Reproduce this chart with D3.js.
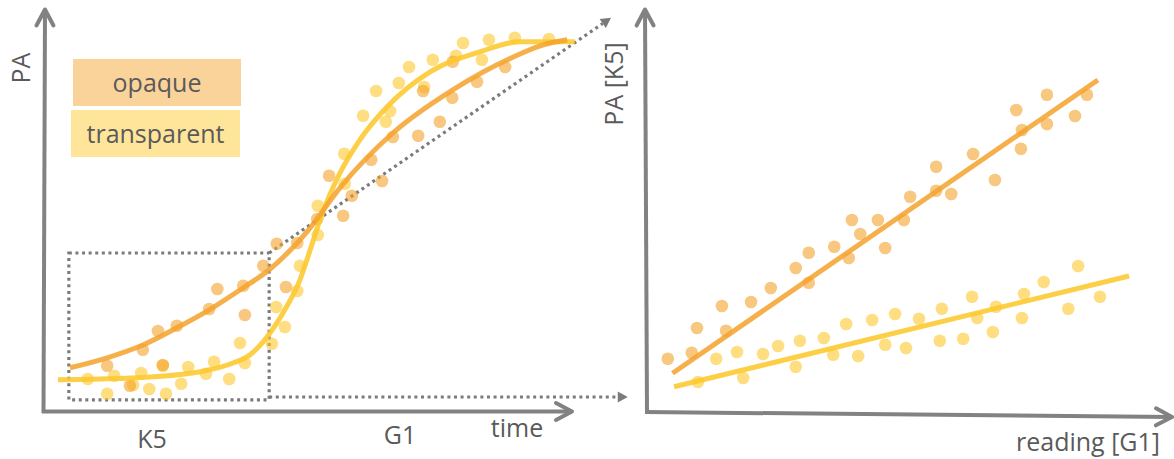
<!DOCTYPE html>
<html>
<head>
<meta charset="utf-8">
<script src="https://cdn.jsdelivr.net/npm/d3@7"></script>
<style>
  html, body { margin: 0; padding: 0; background: #fff; }
  svg { display: block; }
  text { font-family: "Open Sans", sans-serif; fill: #5a5a5a; }
</style>
</head>
<body>
<svg id="chart" width="1174" height="459"></svg>
<script>
// ---------- Left panel: PA over time (time 0–100, PA 0–100) ----------
const opaqueCurve = [
  [4.8, 10.8], [11.7, 13.3], [18.3, 16.5], [24.6, 20.8], [30.6, 25.3], [36.9, 30.8],
  [41.7, 35.3], [48.7, 44.8], [54.8, 55.8], [64.6, 69.5], [75.7, 80.3], [86.9, 88.5],
  [91.9, 91.3], [96.9, 92.8]
];
const transparentCurve = [
  [2.6, 7.8], [10.4, 8.0], [19.6, 8.5], [28.9, 9.8], [35.0, 12.0], [38.1, 14.0],
  [41.3, 18.5], [44.6, 25.3], [47.4, 32.8], [49.3, 40.3], [51.1, 47.8], [54.8, 59.5],
  [58.5, 67.8], [63.5, 76.0], [71.5, 84.8], [80.7, 89.8], [88.1, 92.3], [98.3, 92.3]
];
const opaqueTimeDots = [
  [11.7, 11.3], [15.9, 6.3], [18.3, 15.3], [21.1, 20.0], [22.0, 11.5], [24.6, 21.3],
  [30.6, 25.5], [32.1, 30.5], [36.9, 31.3], [37.2, 24.0], [40.6, 36.3], [43.1, 41.8],
  [44.8, 31.0], [46.9, 42.0], [50.6, 48.0], [52.8, 58.8], [55.4, 48.8], [57.0, 53.8],
  [60.6, 62.8], [62.6, 57.5], [64.6, 68.5], [69.3, 68.8], [73.3, 72.3], [70.2, 80.0],
  [75.6, 78.3], [75.7, 87.3], [80.2, 82.3], [85.4, 86.0]
];
const transparentTimeDots = [
  [8.1, 8.0], [11.7, 4.3], [13.0, 8.8], [16.5, 6.5], [18.0, 9.5], [19.5, 5.5],
  [22.0, 11.3], [22.6, 4.3], [25.4, 6.8], [26.7, 11.0], [30.0, 9.3], [31.5, 12.3],
  [34.3, 8.0], [36.3, 17.0], [37.2, 12.0], [42.2, 16.8], [43.0, 26.0], [44.6, 21.0],
  [46.9, 30.0], [47.4, 36.3], [50.7, 44.0], [50.7, 51.3], [55.7, 56.8], [55.6, 64.3],
  [59.1, 73.8], [63.3, 72.3], [64.1, 75.0], [61.5, 80.0], [65.7, 82.0], [67.6, 86.0],
  [70.4, 81.0], [72.0, 87.8], [76.3, 88.8], [77.6, 92.0], [81.1, 87.8], [82.4, 92.8],
  [87.2, 93.3], [93.5, 93.0]
];
// K5 window [t0, t1, pa0, pa1] and the two dotted arrow targets (time, PA)
const k5Window = [4.6, 41.7, 2.8, 39.5];
const diagonalArrowTip = [105.0, 98.3];
const baselineArrow = [41.7, 108.1, 3.5];

// ---------- Right panel: PA [K5] vs reading [G1] (0–100 each) ----------
const opaqueReadingDots = [
  [4.2, 13.3], [8.8, 14.8], [9.8, 21.0], [14.6, 26.5], [15.4, 20.3], [20.2, 27.5],
  [24.0, 31.0], [28.8, 36.0], [31.3, 32.3], [31.3, 39.8], [36.2, 41.3], [39.0, 38.5],
  [39.6, 48.0], [41.2, 44.5], [44.6, 48.0], [46.0, 41.0], [49.6, 48.0], [50.8, 53.8],
  [55.8, 61.3], [55.8, 55.3], [58.7, 54.5], [62.9, 64.5], [67.1, 58.0], [71.2, 75.5],
  [72.3, 70.5], [72.1, 65.8], [77.1, 79.3], [77.1, 72.0], [82.5, 74.0], [84.8, 79.3]
];
const transparentReadingDots = [
  [10.0, 7.5], [18.7, 8.5], [13.5, 13.3], [17.5, 15.0], [22.5, 14.5], [25.4, 16.5],
  [28.8, 11.3], [29.6, 17.8], [34.2, 18.5], [36.0, 14.3], [38.5, 22.0], [40.8, 14.0],
  [43.5, 23.0], [46.0, 16.8], [47.9, 24.5], [50.0, 16.0], [52.5, 23.3], [56.5, 17.8],
  [56.9, 25.8], [61.0, 18.3], [62.7, 28.8], [63.7, 23.5], [66.7, 20.0], [67.3, 26.3],
  [72.3, 23.5], [72.7, 29.5], [76.5, 32.5], [81.2, 25.8], [83.1, 36.5], [87.3, 28.8]
];
const opaqueFit = [[5.1, 9.7], [86.9, 83.0]];
const transparentFit = [[5.4, 6.3], [92.9, 34.0]];

// ---------- Labels ----------
const seriesNames = ["opaque", "transparent"];
const leftAxisLabels = { y: "PA", x: "time", k5: "K5", g1: "G1" };
const rightAxisLabels = { y: "PA [K5]", x: "reading [G1]" };

// ---------- Styling ----------
const colors = {
  opaque: "#f4a22c", transparent: "#fdc82c",
  opaqueBox: "#fad39b", transparentBox: "#ffe59a",
  axis: "#828282", dotted: "#7b7b7b"
};
const dotR = 6.3;

const svg = d3.select("#chart");
svg.append("rect").attr("width", 1174).attr("height", 459).attr("fill", "#fff");

const xL = d3.scaleLinear().domain([0, 100]).range([44, 584]);
const yL = d3.scaleLinear().domain([0, 100]).range([411, 11]);
const xR = d3.scaleLinear().domain([0, 100]).range([646, 1166]);
const yR = d3.scaleLinear().domain([0, 100]).range([412, 12]);

// arrow axis: straight line with an open chevron at the tip
function arrowAxis(x0, y0, x1, y1) {
  const g = svg.append("g").attr("stroke", colors.axis).attr("stroke-width", 4)
    .attr("fill", "none").attr("stroke-linecap", "round").attr("stroke-linejoin", "round");
  g.append("line").attr("x1", x0).attr("y1", y0).attr("x2", x1).attr("y2", y1)
    .attr("stroke-linecap", "butt");
  const a = Math.atan2(y1 - y0, x1 - x0);
  const back = 16, half = 8.5;
  const bx = x1 - back * Math.cos(a), by = y1 - back * Math.sin(a);
  const px = -Math.sin(a) * half, py = Math.cos(a) * half;
  g.append("path").attr("d",
    `M${bx + px},${by + py}L${x1},${y1}L${bx - px},${by - py}`);
}

// dotted line ending in a filled triangular head
function dottedArrow(x0, y0, x1, y1) {
  const a = Math.atan2(y1 - y0, x1 - x0);
  const len = 10, half = 5.5;
  const bx = x1 - len * Math.cos(a), by = y1 - len * Math.sin(a);
  svg.append("line").attr("x1", x0).attr("y1", y0).attr("x2", bx).attr("y2", by)
    .attr("stroke", colors.dotted).attr("stroke-width", 3.2)
    .attr("stroke-dasharray", "3,3.6");
  const px = -Math.sin(a) * half, py = Math.cos(a) * half;
  svg.append("path")
    .attr("d", `M${x1},${y1}L${bx + px},${by + py}L${bx - px},${by - py}Z`)
    .attr("fill", colors.dotted);
}

// ---------- Left panel ----------
// K5 window
const [w0, w1, p0, p1] = k5Window;
svg.append("rect")
  .attr("x", xL(w0)).attr("y", yL(p1))
  .attr("width", xL(w1) - xL(w0)).attr("height", yL(p0) - yL(p1))
  .attr("fill", "none").attr("stroke", colors.dotted).attr("stroke-width", 3.2)
  .attr("stroke-dasharray", "3,3.6");
dottedArrow(xL(w1), yL(p1), xL(diagonalArrowTip[0]), yL(diagonalArrowTip[1]));
dottedArrow(xL(baselineArrow[0]), yL(baselineArrow[2]), xL(baselineArrow[1]), yL(baselineArrow[2]));

// points
function dots(data, x, y, color) {
  svg.append("g").selectAll("circle").data(data).join("circle")
    .attr("cx", d => x(d[0])).attr("cy", d => y(d[1])).attr("r", dotR)
    .attr("fill", color).attr("fill-opacity", 0.6);
}
dots(transparentTimeDots, xL, yL, colors.transparent);
dots(opaqueTimeDots, xL, yL, colors.opaque);

const lineL = d3.line().x(d => xL(d[0])).y(d => yL(d[1])).curve(d3.curveMonotoneX);
svg.append("path").datum(transparentCurve).attr("d", lineL)
  .attr("fill", "none").attr("stroke", colors.transparent).attr("stroke-width", 5)
  .attr("stroke-opacity", 0.88);
svg.append("path").datum(opaqueCurve).attr("d", lineL)
  .attr("fill", "none").attr("stroke", colors.opaque).attr("stroke-width", 5)
  .attr("stroke-opacity", 0.85);

// axes
arrowAxis(43.5, 413, 45, 9.5);
arrowAxis(42, 411.5, 572, 411.5);

// legend
const legend = svg.append("g");
const legendBoxes = [
  { name: seriesNames[0], x: 73, y: 59, w: 168, h: 47, fill: colors.opaqueBox },
  { name: seriesNames[1], x: 71, y: 110, w: 169, h: 47, fill: colors.transparentBox }
];
legendBoxes.forEach(b => {
  legend.append("rect").attr("x", b.x).attr("y", b.y).attr("width", b.w).attr("height", b.h)
    .attr("fill", b.fill);
  legend.append("text").attr("x", b.x + b.w / 2).attr("y", b.y + 33)
    .attr("text-anchor", "middle").attr("font-size", 25).text(b.name);
});

// axis labels
svg.append("text").attr("transform", "translate(30,68) rotate(-90)")
  .attr("text-anchor", "middle").attr("font-size", 25).text(leftAxisLabels.y);
svg.append("text").attr("x", 517).attr("y", 437).attr("text-anchor", "middle")
  .attr("font-size", 25).text(leftAxisLabels.x);
svg.append("text").attr("x", 152).attr("y", 448).attr("text-anchor", "middle")
  .attr("font-size", 25).text(leftAxisLabels.k5);
svg.append("text").attr("x", 400).attr("y", 444).attr("text-anchor", "middle")
  .attr("font-size", 25).text(leftAxisLabels.g1);

// ---------- Right panel ----------
dots(opaqueReadingDots, xR, yR, colors.opaque);
dots(transparentReadingDots, xR, yR, colors.transparent);

const lineR = d3.line().x(d => xR(d[0])).y(d => yR(d[1]));
svg.append("path").datum(opaqueFit).attr("d", lineR)
  .attr("fill", "none").attr("stroke", colors.opaque).attr("stroke-width", 5)
  .attr("stroke-opacity", 0.85);
svg.append("path").datum(transparentFit).attr("d", lineR)
  .attr("fill", "none").attr("stroke", colors.transparent).attr("stroke-width", 5)
  .attr("stroke-opacity", 0.88);

arrowAxis(647, 413, 645, 9.5);
arrowAxis(645, 412, 1172, 417);

svg.append("text").attr("transform", "translate(623,84) rotate(-90)")
  .attr("text-anchor", "middle").attr("font-size", 25).text(rightAxisLabels.y);
svg.append("text").attr("x", 1160).attr("y", 451).attr("text-anchor", "end")
  .attr("font-size", 25).text(rightAxisLabels.x);
</script>
</body>
</html>
